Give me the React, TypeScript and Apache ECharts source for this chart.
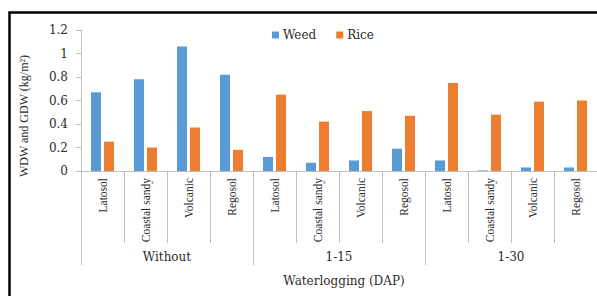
import React, { useEffect, useRef } from "react";
import * as echarts from "echarts";

const soils = ["Latosol", "Coastal sandy", "Volcanic", "Regosol"];
const groups = ["Without", "1-15", "1-30"];
const categories = groups.flatMap(() => soils);
const weed = [0.67, 0.78, 1.06, 0.82, 0.12, 0.07, 0.09, 0.19, 0.09, 0.005, 0.03, 0.03];
const rice = [0.25, 0.2, 0.37, 0.18, 0.65, 0.42, 0.51, 0.47, 0.75, 0.48, 0.59, 0.6];
const yTitle = "WDW and GDW (kg/m²)";
const xTitle = "Waterlogging (DAP)";

const SERIF_V = "Liberation Serif";
const SERIF_H = "DejaVu Serif";
const GRAY = "#bfbfbf";
const TXT = "#2b2b2b";

export default function App() {
  const ref = useRef<HTMLDivElement>(null);
  useEffect(() => {
    if (!ref.current) return;
    const chart = echarts.init(ref.current, undefined, { renderer: "svg" });
    chart.setOption({
      animation: false,
      backgroundColor: "#fff",
      legend: {
        left: 267,
        top: 24,
        itemWidth: 7,
        itemHeight: 7,
        itemGap: 20,
        icon: "rect",
        textStyle: { fontFamily: SERIF_H, fontSize: 12, color: TXT, padding: [0, 0, 0, -1] },
        data: ["Weed", "Rice"],
      },
      grid: { left: 81, right: -1, top: 30, bottom: 125 },
      xAxis: [
        {
          type: "category",
          data: categories,
          position: "bottom",
          axisLine: { lineStyle: { color: GRAY, width: 1 } },
          axisTick: { show: true, interval: 0, length: 72, alignWithLabel: false, lineStyle: { color: GRAY } },
          axisLabel: {
            interval: 0,
            rotate: 90,
            margin: 7,
            fontFamily: SERIF_V,
            fontSize: 11.5,
            color: TXT,
          },
        },
        {
          type: "category",
          data: groups,
          position: "bottom",
          axisLine: { show: false },
          axisTick: { show: true, interval: 0, length: 94, alignWithLabel: false, lineStyle: { color: GRAY } },
          axisLabel: { interval: 0, margin: 80, fontFamily: SERIF_H, fontSize: 12, color: TXT },
        },
      ],
      yAxis: {
        type: "value",
        min: 0,
        max: 1.2,
        interval: 0.2,
        axisLine: { show: true, lineStyle: { color: GRAY } },
        axisTick: { show: true, length: 5, lineStyle: { color: GRAY } },
        splitLine: { show: false },
        axisLabel: {
          margin: 13,
          fontFamily: SERIF_H,
          fontSize: 12,
          color: TXT,
          formatter: (v: number) => String(Math.round(v * 10) / 10),
        },
      },
      series: [
        {
          name: "Weed",
          type: "bar",
          data: weed,
          barWidth: 10,
          barGap: "30%",
          itemStyle: { color: "#5B9BD5" },
        },
        {
          name: "Rice",
          type: "bar",
          data: rice,
          barWidth: 10,
          barGap: "30%",
          itemStyle: { color: "#ED7D31" },
        },
      ],
      graphic: [
        {
          type: "rect",
          shape: { x: 9.5, y: 12.5, width: 620, height: 320 },
          style: { fill: "none", stroke: "#000", lineWidth: 2.5 },
          silent: true,
        },
        {
          type: "text",
          x: 23.5,
          y: 116,
          rotation: Math.PI / 2,
          style: {
            text: yTitle,
            fontFamily: SERIF_V,
            fontSize: 12,
            fill: TXT,
            align: "center",
            verticalAlign: "middle",
          },
        },
        {
          type: "text",
          x: 344,
          y: 281,
          style: {
            text: xTitle,
            fontFamily: SERIF_H,
            fontSize: 12,
            fill: TXT,
            align: "center",
            verticalAlign: "middle",
          },
        },
      ],
    });
    return () => chart.dispose();
  }, []);
  return (
    <div
      ref={ref}
      style={{ position: "absolute", left: 0, top: 0, width: 597, height: 296 }}
    />
  );
}
